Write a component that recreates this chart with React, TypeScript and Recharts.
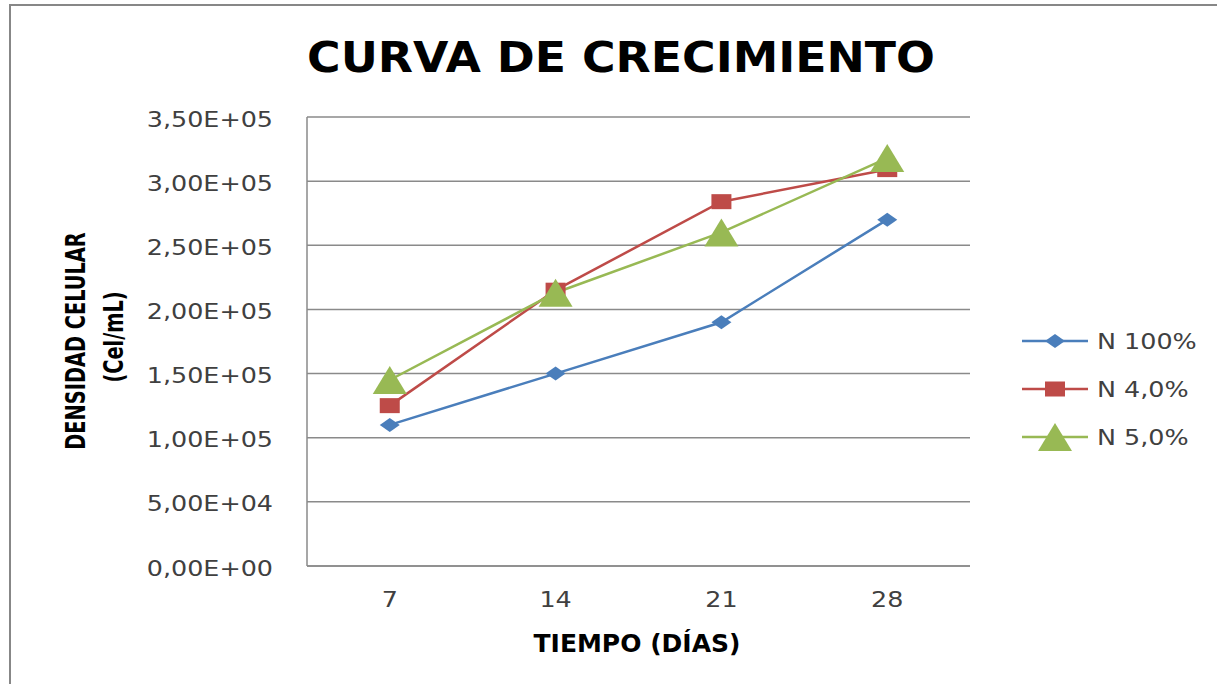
import { CartesianGrid, Legend, Line, LineChart, XAxis, YAxis } from "recharts";

// días de cultivo
const days = ["7", "14", "21", "28"];

// densidad celular (Cel/mL) por tratamiento
const n100 = [110000, 150000, 190000, 270000];
const n40 = [125000, 215000, 284000, 309000];
const n50 = [145000, 213000, 260000, 318000];

const yTicks = [0, 50000, 100000, 150000, 200000, 250000, 300000, 350000];

const seriesNames = ["N 100%", "N 4,0%", "N 5,0%"];
const seriesColors = ["#4a7ebb", "#be4b48", "#98b954"];
const seriesShapes = ["diamond", "square", "triangle"];

const data = days.map((d, i) => ({ day: d, a: n100[i], b: n40[i], c: n50[i] }));

const TEXT = "#404040";
const GRID = "#8a8a8a";
const FONT = "DejaVu Sans";

// 3,50E+05 style, like Excel in a Spanish locale
function sci(v: number) {
  if (v === 0) return "0,00E+00";
  const e = Math.floor(Math.log10(v));
  const m = v / Math.pow(10, e);
  return m.toFixed(2).replace(".", ",") + "E+" + String(e).padStart(2, "0");
}

function Marker({ shape, cx, cy, color }: { shape: string; cx: number; cy: number; color: string }) {
  if (cx == null || cy == null) return null;
  if (shape === "diamond") {
    return (
      <polygon
        points={`${cx - 10},${cy} ${cx},${cy - 7} ${cx + 10},${cy} ${cx},${cy + 7}`}
        fill={color}
      />
    );
  }
  if (shape === "square") {
    return <rect x={cx - 10} y={cy - 7.5} width={20} height={15} fill={color} />;
  }
  return (
    <polygon points={`${cx - 17},${cy + 14} ${cx},${cy - 14} ${cx + 17},${cy + 14}`} fill={color} />
  );
}

function makeDot(i: number) {
  return (props: any) => (
    <Marker key={props.key ?? `${i}-${props.index}`} shape={seriesShapes[i]} cx={props.cx} cy={props.cy} color={seriesColors[i]} />
  );
}

function YTick(props: any) {
  const { x, y, payload } = props;
  return (
    <text
      transform={`translate(${x},${y + 2}) scale(1.21,1)`}
      textAnchor="end"
      dy="0.36em"
      fontFamily={FONT}
      fontSize={21}
      fill={TEXT}
    >
      {sci(payload.value)}
    </text>
  );
}

function XTick(props: any) {
  const { x, y, payload } = props;
  return (
    <text
      transform={`translate(${x},${y}) scale(1.21,1)`}
      textAnchor="middle"
      dy="0.71em"
      fontFamily={FONT}
      fontSize={21}
      fill={TEXT}
    >
      {payload.value}
    </text>
  );
}

function LegendBox() {
  return (
    <svg width={200} height={140}>
      {seriesNames.map((name, i) => {
        const cy = 21 + i * 48;
        return (
          <g key={name}>
            <line x1={7} y1={cy} x2={73} y2={cy} stroke={seriesColors[i]} strokeWidth={2.5} />
            <Marker shape={seriesShapes[i]} cx={40} cy={cy} color={seriesColors[i]} />
            <text
              transform={`translate(82,${cy}) scale(1.21,1)`}
              dy="0.36em"
              fontFamily={FONT}
              fontSize={21}
              fill={TEXT}
            >
              {name}
            </text>
          </g>
        );
      })}
    </svg>
  );
}

export default function App() {
  return (
    <div style={{ position: "absolute", left: 0, top: 0, width: 1217, height: 684, background: "#fff", overflow: "hidden" }}>
      <div
        style={{
          position: "absolute",
          left: 9,
          top: 4,
          width: 1300,
          height: 800,
          borderLeft: "2px solid #878787",
          borderTop: "2px solid #878787",
        }}
      />
      <div style={{ position: "absolute", left: 0, top: 0 }}>
        <LineChart width={1217} height={684} data={data} margin={{ top: 117, right: 247, bottom: 0, left: 0 }}>
          <CartesianGrid vertical={false} stroke={GRID} strokeWidth={1.5} />
          <XAxis
            dataKey="day"
            height={118}
            padding={{ left: 82.75, right: 82.75 }}
            axisLine={{ stroke: GRID, strokeWidth: 1.5 }}
            tickLine={false}
            tickSize={0}
            tickMargin={26}
            tick={<XTick />}
          />
          <YAxis
            width={307}
            domain={[0, 350000]}
            ticks={yTicks}
            axisLine={{ stroke: GRID, strokeWidth: 1.5 }}
            tickLine={false}
            tickSize={0}
            tickMargin={34}
            tick={<YTick />}
          />
          <Legend
            layout="horizontal"
            verticalAlign="middle"
            align="center"
            content={<LegendBox />}
            wrapperStyle={{ position: "absolute", left: 1015, top: 320, width: 200, height: 140 }}
          />
          <Line dataKey="a" name={seriesNames[0]} stroke={seriesColors[0]} strokeWidth={2.5} dot={makeDot(0)} activeDot={false} isAnimationActive={false} />
          <Line dataKey="b" name={seriesNames[1]} stroke={seriesColors[1]} strokeWidth={2.5} dot={makeDot(1)} activeDot={false} isAnimationActive={false} />
          <Line dataKey="c" name={seriesNames[2]} stroke={seriesColors[2]} strokeWidth={2.5} dot={makeDot(2)} activeDot={false} isAnimationActive={false} />
        </LineChart>
      </div>
      <svg width={1217} height={684} style={{ position: "absolute", left: 0, top: 0, pointerEvents: "none" }}>
        <text
          transform="translate(621,72) scale(1.09,1)"
          textAnchor="middle"
          fontFamily={FONT}
          fontWeight="bold"
          fontSize={42}
          fill="#000"
        >
          CURVA DE CRECIMIENTO
        </text>
        <text x={637} y={652} textAnchor="middle" fontFamily={FONT} fontWeight="bold" fontSize={25} fill="#000">
          TIEMPO (DÍAS)
        </text>
        <text
          transform="translate(85,341) rotate(-90) scale(0.717,1)"
          textAnchor="middle"
          fontFamily={FONT}
          fontWeight="bold"
          fontSize={27}
          fill="#000"
        >
          DENSIDAD CELULAR
        </text>
        <text
          transform="translate(123,337) rotate(-90) scale(0.717,1)"
          textAnchor="middle"
          fontFamily={FONT}
          fontWeight="bold"
          fontSize={27}
          fill="#000"
        >
          (Cel/mL)
        </text>
      </svg>
    </div>
  );
}
